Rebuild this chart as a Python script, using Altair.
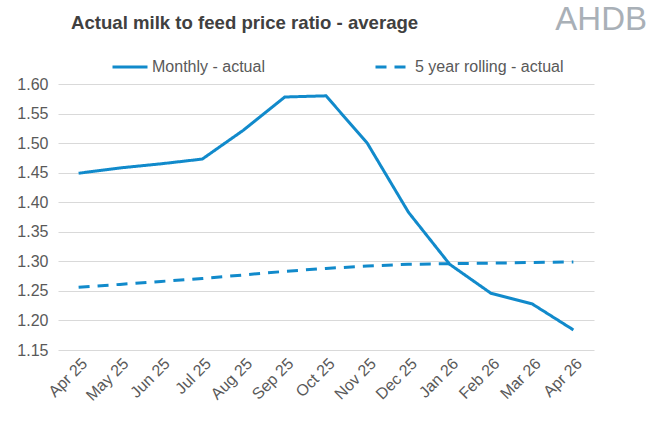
import altair as alt
import pandas as pd

months = ["Apr 25", "May 25", "Jun 25", "Jul 25", "Aug 25", "Sep 25", "Oct 25",
          "Nov 25", "Dec 25", "Jan 26", "Feb 26", "Mar 26", "Apr 26"]
monthly_actual = [1.449, 1.458, 1.465, 1.473, 1.522, 1.578, 1.580,
                  1.500, 1.383, 1.295, 1.246, 1.228, 1.184]
rolling_actual = [1.256, 1.261, 1.266, 1.271, 1.277, 1.283, 1.288,
                  1.292, 1.295, 1.296, 1.297, 1.298, 1.299]
series_names = ["Monthly - actual", "5 year rolling - actual"]
y_ticks = [1.15, 1.20, 1.25, 1.30, 1.35, 1.40, 1.45, 1.50, 1.55, 1.60]

rows = []
for m, v in zip(months, monthly_actual):
    rows.append({"month": m, "value": v, "series": series_names[0]})
for m, v in zip(months, rolling_actual):
    rows.append({"month": m, "value": v, "series": series_names[1]})
df = pd.DataFrame(rows)

BLUE = "#118ACB"
FONT = "Liberation Sans"

legend_kw = dict(title=None, orient="none", legendX=53, legendY=-36,
                 direction="horizontal", symbolType="stroke",
                 symbolSize=1225, symbolStrokeWidth=3,
                 labelFontSize=16, labelColor="#595959",
                 labelFont=FONT, columnPadding=104, labelOffset=3)

lines = alt.Chart(df).mark_line(strokeWidth=3).encode(
    x=alt.X("month:N", sort=months, title=None,
            scale=alt.Scale(padding=0.5),
            axis=alt.Axis(labelAngle=-45, labelFontSize=16, labelColor="#595959",
                          labelFont=FONT, ticks=False, domain=False, grid=False,
                          labelPadding=5)),
    y=alt.Y("value:Q", title=None,
            scale=alt.Scale(domain=[1.15, 1.60], nice=False, zero=False),
            axis=alt.Axis(values=y_ticks, format=".2f", labelFontSize=16,
                          labelColor="#595959", labelFont=FONT, ticks=False,
                          domain=False, gridColor="#D9D9D9", gridWidth=1,
                          labelPadding=10)),
    color=alt.Color("series:N", sort=series_names,
                    scale=alt.Scale(domain=series_names, range=[BLUE, BLUE]),
                    legend=alt.Legend(**legend_kw)),
    strokeDash=alt.StrokeDash("series:N", sort=series_names,
                              scale=alt.Scale(domain=series_names,
                                              range=[[1, 0], [11, 8]]),
                              legend=alt.Legend(**legend_kw)),
    order=alt.Order("series:N"),
)

title_df = pd.DataFrame({"t": ["Actual milk to feed price ratio - average"]})
title = alt.Chart(title_df).mark_text(
    align="left", baseline="alphabetic", fontSize=18.6, fontWeight="bold",
    color="#404040", font=FONT
).encode(text="t:N", x=alt.value(13), y=alt.value(-55))

logo_df = pd.DataFrame({"t": ["AHDB"]})
logo = alt.Chart(logo_df).mark_text(
    align="right", baseline="alphabetic", fontSize=33, color="#A9B0B7", font=FONT
).encode(text="t:N", x=alt.value(589), y=alt.value(-54))

chart = alt.layer(lines, title, logo).properties(
    width=536, height=266,
    padding={"left": 58, "top": 84, "right": 59, "bottom": 71},
    autosize=alt.AutoSizeParams(type="none"),
).configure(font=FONT).configure_view(stroke=None)

chart.save("out.html", embed_options={"renderer": "svg", "actions": False})
